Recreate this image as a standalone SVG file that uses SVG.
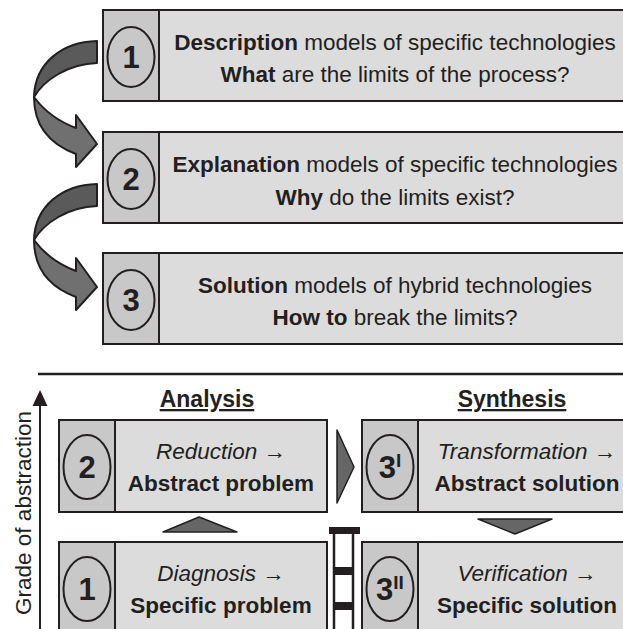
<svg xmlns="http://www.w3.org/2000/svg" width="623" height="629" viewBox="0 0 623 629">
  <style>
    .box { fill: #dcdcdc; stroke: #231f20; stroke-width: 2; }
    .col { fill: #c8c8c8; stroke: #231f20; stroke-width: 2; }
    .ring { fill: none; stroke: #231f20; stroke-width: 2; }
    .num { font-family: "Liberation Sans", Arial, sans-serif; font-weight: bold; font-size: 31px; fill: #231f20; text-anchor: middle; }
    .txt { font-family: "Liberation Sans", Arial, sans-serif; font-size: 22.5px; fill: #231f20; text-anchor: middle; }
    .b { font-weight: bold; }
    .i { font-style: italic; }
    .head { font-family: "Liberation Sans", Arial, sans-serif; font-size: 23px; font-weight: bold; fill: #231f20; text-anchor: middle; text-decoration: underline; }
    .tri { fill: #666666; stroke: #231f20; stroke-width: 1.5; stroke-linejoin: round; }
    .arrA { fill: #5a5a5a; stroke: #231f20; stroke-width: 2; stroke-linejoin: round; }
    .arrB { fill: #707070; stroke: #231f20; stroke-width: 2; stroke-linejoin: round; }
  </style>
  <defs>
    <!-- curved step arrow between stacked model boxes -->
    <g id="curl">
      <path class="arrA" d="M97,41 C62,42 35,63 34,97 C44,80 68,64 97,63 Z"/>
      <path class="arrB" d="M34,97 C34,128 52,145 76,154 L76,167 L97,144 L76,115 L76,128 C60,122 45,112 34,97 Z"/>
    </g>
  </defs>

  <!-- model hierarchy -->
  <g id="model-1">
    <rect class="box" x="103" y="10" width="532" height="91"/>
    <rect class="col" x="103" y="10" width="56" height="91"/>
    <ellipse class="ring" cx="131" cy="57" rx="23.5" ry="30"/>
    <text class="num" x="131" y="68">1</text>
    <text class="txt" x="395" y="50"><tspan class="b">Description</tspan> models of specific technologies</text>
    <text class="txt" x="395" y="82"><tspan class="b">What</tspan> are the limits of the process?</text>
  </g>
  <g id="model-2">
    <rect class="box" x="103" y="132" width="532" height="91"/>
    <rect class="col" x="103" y="132" width="56" height="91"/>
    <ellipse class="ring" cx="131" cy="179" rx="23.5" ry="30"/>
    <text class="num" x="131" y="190">2</text>
    <text class="txt" x="395" y="172"><tspan class="b">Explanation</tspan> models of specific technologies</text>
    <text class="txt" x="395" y="205"><tspan class="b">Why</tspan> do the limits exist?</text>
  </g>
  <g id="model-3">
    <rect class="box" x="103" y="253" width="532" height="91"/>
    <rect class="col" x="103" y="253" width="56" height="91"/>
    <ellipse class="ring" cx="131" cy="300" rx="23.5" ry="30"/>
    <text class="num" x="131" y="311">3</text>
    <text class="txt" x="395" y="293"><tspan class="b">Solution</tspan> models of hybrid technologies</text>
    <text class="txt" x="395" y="325"><tspan class="b">How to</tspan> break the limits?</text>
  </g>

  <g id="connectors">
    <use href="#curl"/>
    <use href="#curl" transform="translate(0,143)"/>
    <!-- section rule -->
    <line x1="38" y1="374" x2="623" y2="374" stroke="#231f20" stroke-width="2.5"/>
    <!-- abstraction axis -->
    <line x1="40" y1="404" x2="40" y2="629" stroke="#231f20" stroke-width="2"/>
    <polygon points="40,390 47.5,406 32.5,406" fill="#231f20"/>
    <!-- step markers -->
    <polygon class="tri" points="163,532 237,532 199,517"/>
    <polygon class="tri" points="337,430 354,467 337,503"/>
    <polygon class="tri" points="478,519 552,519 515,534"/>
    <!-- ladder -->
    <rect x="334" y="530" width="19" height="110" fill="#ffffff" stroke="#231f20" stroke-width="2.5"/>
    <rect x="329" y="527" width="31" height="7" fill="#231f20"/>
    <rect x="334" y="567" width="19" height="8" fill="#231f20"/>
    <rect x="334" y="602" width="19" height="8" fill="#231f20"/>
  </g>

  <text class="txt" transform="translate(31,513) rotate(-90)" x="0" y="0">Grade of abstraction</text>
  <text class="head" x="207" y="407">Analysis</text>
  <text class="head" x="512" y="407">Synthesis</text>

  <g id="step-2">
    <rect class="box" x="59" y="420" width="268" height="92"/>
    <rect class="col" x="59" y="420" width="56" height="92"/>
    <ellipse class="ring" cx="87" cy="467" rx="23.5" ry="32"/>
    <text class="num" x="87" y="478">2</text>
    <text class="txt i" x="221" y="459">Reduction →</text>
    <text class="txt b" x="221" y="491">Abstract problem</text>
  </g>
  <g id="step-1">
    <rect class="box" x="59" y="542" width="268" height="100"/>
    <rect class="col" x="59" y="542" width="56" height="100"/>
    <ellipse class="ring" cx="87" cy="589" rx="23.5" ry="32"/>
    <text class="num" x="87" y="600">1</text>
    <text class="txt i" x="221" y="581">Diagnosis →</text>
    <text class="txt b" x="221" y="613">Specific problem</text>
  </g>
  <g id="step-3a">
    <rect class="box" x="362" y="420" width="274" height="92"/>
    <rect class="col" x="362" y="420" width="56" height="92"/>
    <ellipse class="ring" cx="390" cy="467" rx="23.5" ry="32"/>
    <text class="num" x="390" y="478">3<tspan font-size="19" dy="-11">I</tspan></text>
    <text class="txt i" x="527" y="459">Transformation →</text>
    <text class="txt b" x="527" y="491">Abstract solution</text>
  </g>
  <g id="step-3b">
    <rect class="box" x="362" y="542" width="274" height="100"/>
    <rect class="col" x="362" y="542" width="56" height="100"/>
    <ellipse class="ring" cx="390" cy="589" rx="23.5" ry="32"/>
    <text class="num" x="390" y="600">3<tspan font-size="19" dy="-11">II</tspan></text>
    <text class="txt i" x="527" y="581">Verification →</text>
    <text class="txt b" x="527" y="613">Specific solution</text>
  </g>
</svg>
